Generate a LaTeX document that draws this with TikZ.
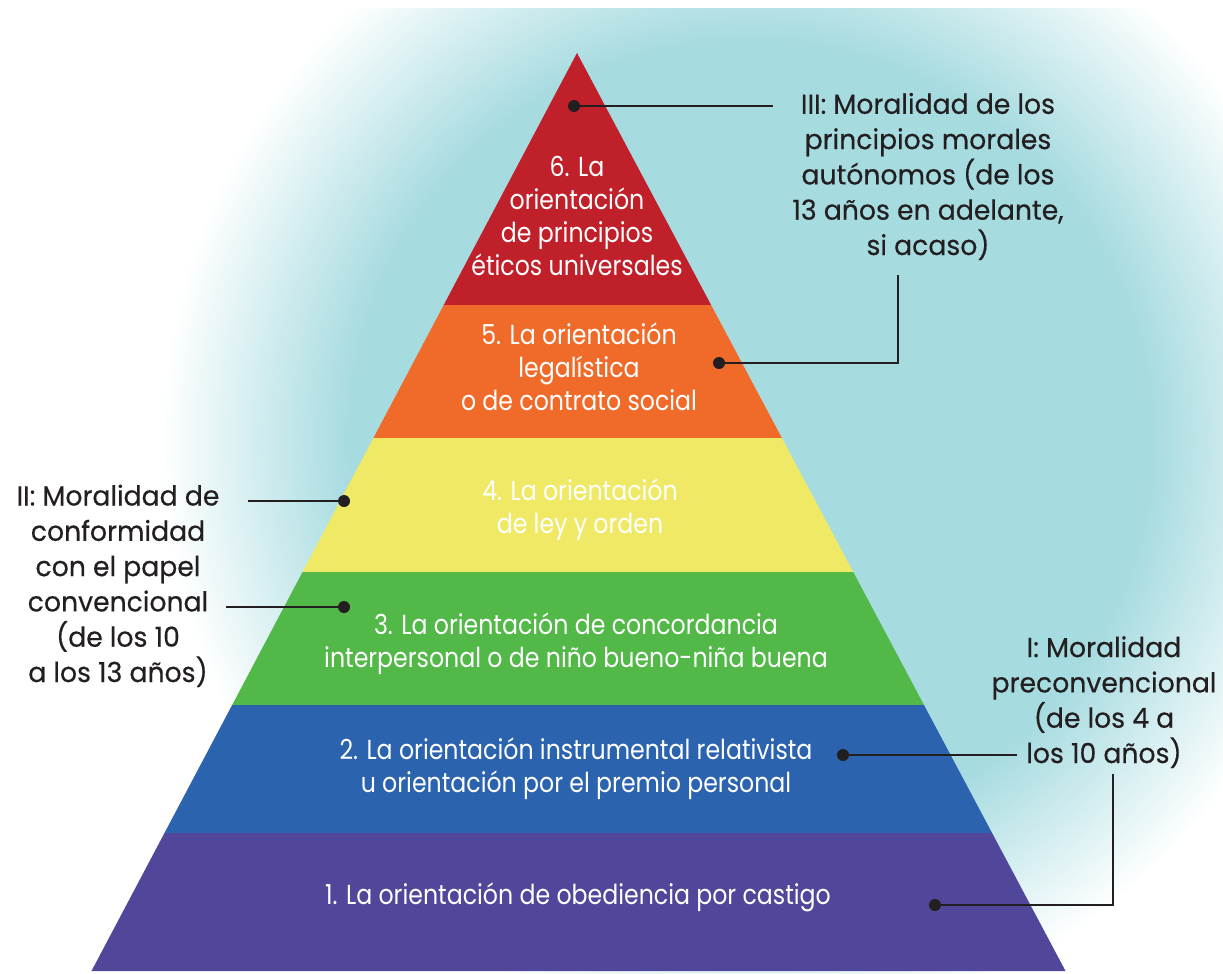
\documentclass[tikz,border=0pt]{standalone}
\usepackage{fontspec}
\setmainfont{Poppins}
\newfontfamily\pyrfont[FakeStretch=0.86]{Poppins}
\newfontfamily\labfont[FakeStretch=0.97,FakeBold=0.4]{Poppins}
\definecolor{glowc}{HTML}{A6DBE0}
\definecolor{ink}{HTML}{231F20}
\definecolor{c6}{HTML}{C0202A}
\definecolor{c5}{HTML}{F06B2A}
\definecolor{c4}{HTML}{F0E965}
\definecolor{c3}{HTML}{52B848}
\definecolor{c2}{HTML}{2B63AE}
\definecolor{c1}{HTML}{50479B}
\pgfdeclareradialshading{glow}{\pgfpoint{0bp}{0bp}}{color(0bp)=(glowc); color(10.5bp)=(glowc); color(15.5bp)=(white); color(50bp)=(white)}
\newcommand\pyrband[3]{%
  \fill[#3] ({577-(#1-53)/917*485},#1) -- ({577+(#1-53)/917*488},#1)
    -- ({577+(#2-53)/917*488},#2) -- ({577-(#2-53)/917*485},#2) -- cycle;}
\begin{document}
\begin{tikzpicture}[x=1pt,y=-1pt,
  pyrtext/.style={text=white,align=center,anchor=base,inner sep=0pt,
    font=\pyrfont\fontsize{27.5}{32.7}\selectfont},
  labtext/.style={text=ink,align=center,anchor=base,inner sep=0pt,
    font=\labfont\fontsize{27.5}{35.3}\selectfont},
  dot/.style={circle,fill=ink,inner sep=0pt,minimum size=12pt},
  conn/.style={draw=ink,line width=2pt}]
\useasboundingbox (0,0) rectangle (1223,974);
\fill[white] (0,0) rectangle (1223,974);
\begin{scope}
  \clip (0,9) rectangle (1223,974);
  \fill[shading=glow] (750,440) circle (950);
\end{scope}
% pyramid bands
\pyrband{53}{305}{c6}
\pyrband{305}{438}{c5}
\pyrband{438}{572}{c4}
\pyrband{572}{705}{c3}
\pyrband{705}{833}{c2}
\pyrband{833}{971}{c1}
% band texts (anchor = baseline of last line)
\node[pyrtext] (t6) at (577,275) {6. La\\orientación\\de principios\\éticos universales};
\node[pyrtext] (t5) at (579,410) {5. La orientación\\legalística\\o de contrato social};
\node[pyrtext] (t4) at (580,533) {4. La orientación\\de ley y orden};
\node[pyrtext] (t3) at (576,667) {3. La orientación de concordancia\\interpersonal o de niño bueno-niña buena};
\node[pyrtext] (t2) at (576,792) {2. La orientación instrumental relativista\\u orientación por el premio personal};
\node[pyrtext] (t1) at (578,904) {1. La orientación de obediencia por castigo};
% labels
\node[labtext] (l3) at (928,255) {III: Moralidad de los\\principios morales\\autónomos (de los\\13 años en adelante,\\si acaso)};
\node[labtext] (l2) at (118,682) {II: Moralidad de\\conformidad\\con el papel\\convencional\\(de los 10\\a los 13 años)};
\node[labtext] (l1) at (1104,763) {I: Moralidad\\preconvencional\\(de los 4 a\\los 10 años)};
% dots
\node[dot] (d6) at (574,106) {};
\node[dot] (d5) at (719,363) {};
\node[dot] (d4) at (344,501) {};
\node[dot] (d3) at (344,607) {};
\node[dot] (d2) at (843,755) {};
\node[dot] (d1) at (935,905) {};
% connector ends
\coordinate (e6) at (773,106);
\coordinate (e5) at (898,275);
\coordinate (e4) at (248,501);
\coordinate (e3) at (226,607);
\coordinate (e2) at (1017,755);
\coordinate (e1) at (1113,774);
\draw[conn] (d6.center) -- (e6);
\draw[conn] (d5.center) -| (e5);
\draw[conn] (d4.center) -- (e4);
\draw[conn] (d3.center) -- (e3);
\draw[conn] (d2.center) -- (e2);
\draw[conn] (d1.center) -| (e1);
\end{tikzpicture}
\end{document}
